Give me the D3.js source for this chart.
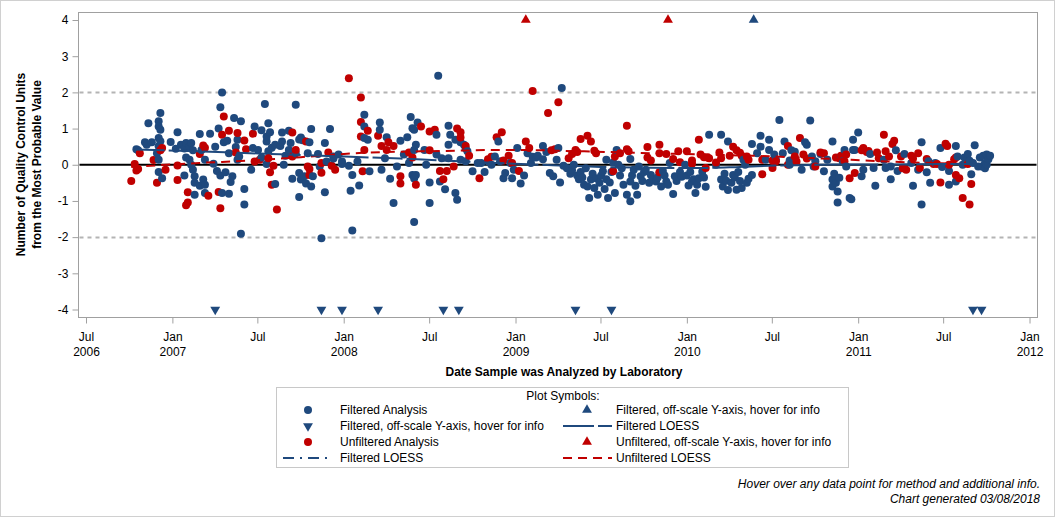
<!DOCTYPE html>
<html><head><meta charset="utf-8">
<script src="https://cdn.jsdelivr.net/npm/d3@7"></script>
<style>
html,body{margin:0;padding:0;background:#fff;}
text{font-family:"Liberation Sans",Arial,sans-serif;}
</style></head>
<body><svg id="chart" width="1056" height="518"></svg>
<script>
// ---- DATA (dates as decimal years, values in QC units) ----
const filteredAnalysis = [
[2006.79,0.43],[2006.80,0.40],[2006.84,0.62],[2006.86,1.15],[2006.85,0.55],[2006.88,0.62],[2006.92,1.20],[2006.93,1.43],[2006.92,1.06],[2006.93,0.97],
[2006.92,0.74],[2006.92,0.51],[2006.91,0.32],[2006.92,0.14],[2006.92,-0.20],[2006.94,-0.37],[2006.93,0.65],[2006.99,0.63],[2007.03,0.90],[2007.02,0.44],
[2007.05,0.55],[2007.07,0.45],[2007.08,0.60],[2007.10,0.50],[2007.11,0.60],[2007.12,0.40],[2007.08,0.20],[2007.10,0.14],[2007.11,0.00],[2007.12,-0.14],
[2007.07,-0.30],[2007.13,-0.32],[2007.13,-0.50],[2007.16,-0.58],[2007.18,-0.41],[2007.19,-0.55],[2007.13,-0.83],[2007.19,-0.78],[2007.16,0.85],[2007.17,0.41],
[2007.19,0.14],[2007.22,0.86],[2007.27,1.00],[2007.28,1.59],[2007.29,2.00],[2007.25,0.50],[2007.24,0.03],[2007.26,-0.17],[2007.28,-0.30],[2007.31,-0.21],
[2007.29,-0.78],[2007.33,-0.80],[2007.34,-0.48],[2007.35,-0.32],[2007.30,0.62],[2007.33,0.32],[2007.32,0.66],[2007.36,1.29],[2007.40,1.20],[2007.38,0.69],
[2007.37,0.49],[2007.39,0.23],[2007.38,0.14],[2007.42,-0.67],[2007.42,-1.10],[2007.40,-1.91],[2007.46,-0.14],[2007.48,1.06],[2007.47,0.46],[2007.50,0.41],
[2007.52,0.95],[2007.54,1.68],[2007.56,1.15],[2007.55,0.64],[2007.55,0.78],[2007.56,0.37],[2007.55,0.02],[2007.52,0.20],
[2007.57,0.90],[2007.58,0.47],[2007.60,0.55],[2007.60,-0.53],[2007.64,0.89],[2007.64,0.64],[2007.63,0.52],[2007.65,0.00],[2007.68,0.94],[2007.68,0.41],
[2007.70,-0.39],[2007.72,1.66],[2007.72,0.32],[2007.74,0.70],[2007.75,0.75],[2007.76,0.68],[2007.74,-0.23],[2007.75,-0.41],[2007.74,-0.89],[2007.77,-0.32],
[2007.78,-0.52],[2007.79,0.32],[2007.80,0.62],[2007.81,0.99],[2007.81,-0.60],[2007.82,-0.32],[2007.86,-0.05],[2007.89,0.60],[2007.89,-0.76],[2007.87,-2.03],
[2007.90,0.09],[2007.92,0.99],[2007.94,0.17],[2007.97,0.28],[2007.99,0.09],[2008.03,-0.03],[2008.04,-0.72],[2008.05,-0.28],[2008.05,-1.82],[2008.08,0.09],
[2008.09,-0.57],[2008.12,1.38],[2008.12,1.06],[2008.12,0.74],[2008.14,0.69],[2008.15,-0.18],[2008.21,1.17],[2008.21,0.97],[2008.22,-0.14],[2008.25,0.76],
[2008.24,0.18],[2008.27,-0.39],[2008.29,-1.06],[2008.31,-0.05],[2008.33,0.66],[2008.35,0.28],[2008.37,0.76],[2008.38,0.05],[2008.39,1.32],[2008.40,1.01],
[2008.41,0.97],[2008.40,-0.28],[2008.41,-1.58],[2008.41,0.41],[2008.41,-0.38],[2007.94,0.23],[2007.99,0.02],[2007.85,0.30],[2007.69,0.60],[2007.66,0.25],
[2008.43,1.17],[2008.42,0.55],[2008.47,0.41],[2008.48,0.00],[2008.50,-0.49],[2008.50,-1.06],[2008.42,-0.28],[2008.54,0.83],[2008.54,0.28],[2008.56,-0.46],
[2008.59,-0.68],[2008.57,0.18],[2008.61,1.08],[2008.62,0.83],[2008.61,0.55],[2008.61,0.18],[2008.65,-0.78],[2008.66,-0.97],[2008.65,0.69],[2008.68,0.62],
[2008.70,0.55],[2008.71,0.45],[2008.72,0.37],[2008.68,0.14],[2008.71,0.10],[2008.75,-0.18],[2008.80,0.05],[2008.82,-0.20],[2008.84,0.10],[2008.88,0.23],
[2008.90,0.64],[2008.93,-0.37],[2008.94,-0.23],[2008.98,-0.37],[2008.99,-0.14],[2009.03,-0.52],[2009.05,-0.30],[2009.01,0.46],[2009.07,0.32],[2009.10,0.22],
[2009.13,0.25],[2009.16,0.52],[2009.16,0.15],[2009.20,-0.23],[2009.22,-0.32],[2009.24,0.14],[2009.25,0.46],[2009.26,-0.49],[2008.55,2.46],[2009.27,2.12],
[2008.91,0.10],[2008.97,0.05],[2009.09,0.05],[2008.78,0.05],[2008.86,0.00],[2009.12,0.20],[2009.18,0.35],
[2009.28,-0.03],[2009.32,-0.25],[2009.34,0.00],[2009.36,-0.30],[2009.37,-0.40],[2009.38,-0.20],[2009.40,-0.55],[2009.43,-0.92],[2009.44,-0.41],[2009.46,-0.64],
[2009.47,-0.37],[2009.48,-0.83],[2009.51,-0.18],[2009.52,-0.67],[2009.53,0.14],[2009.54,-0.92],[2009.55,-0.49],[2009.57,0.06],[2009.58,-0.78],[2009.59,0.41],
[2009.60,0.00],[2009.65,-0.83],[2009.67,0.16],[2009.67,-0.46],[2009.67,-1.01],[2009.69,-0.14],[2009.70,-0.58],[2009.71,-0.83],[2009.72,-0.05],[2009.73,-0.32],
[2009.76,-0.14],[2009.78,-0.50],[2009.79,-0.28],[2009.82,-0.46],[2009.84,-0.23],[2009.86,-0.17],[2009.88,-0.46],[2009.92,-0.81],[2009.93,-0.32],[2009.97,-0.33],
[2010.01,-0.57],[2010.03,-0.46],[2010.05,-0.78],[2010.07,-0.37],[2010.09,-0.19],[2010.11,-0.61],[2010.13,0.83],[2009.90,0.05],[2009.99,0.00],[2009.61,-0.30],
[2009.41,-0.10],[2009.85,-0.60],
[2009.30,-0.10],[2009.33,-0.15],[2009.39,-0.35],[2009.42,-0.60],[2009.45,-0.25],[2009.49,-0.50],[2009.50,-0.30],[2009.53,-0.40],[2009.56,-0.20],[2009.62,-0.10],
[2009.63,-0.55],[2009.68,-0.30],[2009.74,-0.45],[2009.75,-0.20],[2009.80,-0.40],[2009.83,-0.35],[2009.87,-0.30],[2009.89,-0.55],[2009.94,-0.45],[2009.96,-0.20],
[2010.00,-0.30],[2010.02,-0.20],[2010.04,-0.40],[2010.06,-0.55],[2010.10,-0.35],
[2010.20,0.83],[2010.20,-0.41],[2010.21,-0.60],[2010.23,-0.44],[2010.24,-0.70],[2010.24,0.64],[2010.27,-0.28],[2010.29,-0.69],[2010.30,-0.20],[2010.32,-0.64],
[2010.33,0.14],[2010.36,-0.39],[2010.38,-0.28],[2010.38,0.57],[2010.41,0.32],[2010.43,0.80],[2010.43,0.50],[2010.46,0.14],[2010.48,0.69],[2010.48,0.41],
[2010.51,0.28],[2010.52,0.14],[2010.54,1.24],[2010.56,0.32],[2010.57,0.64],[2010.60,0.12],[2010.61,0.40],[2010.63,0.36],[2010.67,-0.14],[2010.69,0.62],
[2010.70,0.55],[2010.72,1.22],[2010.73,0.23],[2010.74,-0.05],[2010.80,-0.18],[2010.82,0.14],[2010.85,0.64],[2010.85,-0.41],[2010.85,-0.60],[2010.88,-0.74],
[2010.88,-1.04],[2010.89,-0.36],[2010.92,0.41],[2010.90,0.23],[2010.95,-0.92],[2010.97,0.69],[2010.97,0.41],[2010.17,0.00],[2010.34,0.00],[2010.60,0.00],
[2010.75,0.10],[2010.78,0.30],[2010.22,-0.25],[2010.26,-0.50],[2010.28,-0.35],[2010.31,-0.45],[2010.35,-0.50],
[2010.86,-0.25],[2010.87,-0.50],[2010.91,0.10],[2010.93,-0.05],
[2011.00,0.89],[2010.98,0.41],[2010.96,-0.95],[2011.03,-0.14],[2011.02,-0.32],[2011.07,0.30],[2011.09,-0.09],[2011.10,-0.58],[2011.15,0.14],[2011.16,-0.09],
[2011.19,-0.40],[2011.19,-0.05],[2011.22,0.40],[2011.23,-0.17],[2011.31,0.05],[2011.32,-0.58],[2011.35,-0.14],[2011.37,0.62],[2011.37,-1.10],[2011.40,-0.21],
[2011.42,-0.50],[2011.45,0.05],[2011.48,0.46],[2011.49,-0.06],[2011.53,-0.17],[2011.53,-0.55],[2011.57,0.52],[2011.58,0.23],[2011.57,-0.46],[2011.65,0.11],
[2011.66,-0.26],[2011.68,0.54],[2011.70,-0.05],[2011.73,0.25],[2011.74,0.05],[2011.74,-0.10],[2011.76,0.15],[2011.75,0.28],[2011.27,0.30],[2011.41,0.10],
[2011.61,0.00],[2011.64,0.30],[2011.62,0.20],[2011.67,0.05],[2011.71,0.20],[2011.72,-0.05],[2011.75,0.00],[2011.77,0.25]
];
const unfilteredAnalysis = [
[2006.76,-0.45],[2006.78,0.02],[2006.79,-0.16],[2006.80,-0.12],[2006.81,0.32],[2006.89,0.13],[2006.91,-0.50],[2006.94,0.46],[2006.93,0.40],[2006.96,-0.14],
[2007.03,-0.02],[2007.03,-0.42],[2007.09,-0.76],[2007.09,-1.04],[2007.08,-1.12],[2007.16,0.30],[2007.18,0.53],[2007.19,0.47],[2007.21,-0.86],[2007.27,-0.75],
[2007.28,-1.20],[2007.30,1.33],[2007.29,0.83],[2007.33,0.94],[2007.38,0.88],[2007.42,0.67],[2007.43,0.43],[2007.37,0.34],[2007.47,0.86],[2007.48,0.09],
[2007.51,0.14],[2007.56,0.18],[2007.57,-0.21],[2007.58,-0.55],[2007.61,-1.24],[2007.59,-0.03],[2007.70,0.89],[2007.72,0.41],[2007.70,0.23],[2007.78,0.64],
[2007.79,-0.05],[2007.80,-0.12],[2007.80,-0.28],[2007.87,0.05],[2007.87,-0.22],[2007.91,0.34],[2007.93,-0.03],[2007.95,-0.14],[2008.03,2.39],[2008.10,1.86],
[2008.10,1.18],[2008.14,0.94],[2008.12,0.41],[2008.11,-0.18],[2008.10,0.78],[2008.20,0.80],[2008.22,0.52],[2008.25,0.41],[2008.26,0.62],[2008.29,0.52],
[2008.33,-0.32],[2008.33,-0.52],[2008.38,0.34],[2008.42,-0.55],[2008.40,0.20],[2008.45,1.06],[2008.50,0.92],[2008.50,0.40],[2008.53,0.97],[2008.56,-0.17],
[2008.58,-0.40],[2008.60,-0.17],[2008.64,-0.05],[2008.66,1.00],[2008.68,0.90],[2008.68,0.75],[2008.71,0.52],[2008.73,0.25],[2008.79,-0.37],[2008.84,0.15],
[2008.86,0.22],[2008.89,0.76],[2008.92,0.90],[2008.93,0.12],[2008.96,0.25],[2008.98,0.05],[2009.02,-0.17],[2009.06,0.64],[2009.08,0.46],[2009.10,2.04],
[2009.19,1.43],[2009.21,0.40],[2009.23,0.43],[2009.25,1.73],[2009.31,0.18],[2009.33,0.30],[2009.35,0.41],[2009.36,0.35],[2009.38,0.71],[2009.42,0.80],
[2009.44,0.64],[2009.46,0.39],[2009.47,0.32],[2009.57,-0.18],[2009.58,0.23],[2009.61,0.32],[2009.65,1.08],[2009.65,0.43],[2009.66,0.37],[2009.77,0.49],
[2009.77,0.20],[2009.79,0.12],[2009.84,-0.21],[2009.84,0.55],[2009.84,0.32],[2009.88,0.30],[2009.92,0.16],[2009.95,0.37],[2009.96,0.07],[2010.00,0.37],
[2010.03,0.12],[2010.03,0.03],[2010.07,0.69],[2010.08,0.28],[2010.10,0.21],[2010.12,0.20],[2010.11,-0.09],[2010.13,0.18],[2010.17,0.06],[2010.19,0.34],
[2010.20,0.18],[2010.25,0.25],[2010.27,0.50],[2010.29,0.40],[2010.31,0.33],[2010.32,0.25],[2010.35,0.23],[2010.36,0.14],[2010.44,-0.26],[2010.44,0.14],
[2010.50,-0.09],[2010.50,0.12],[2010.52,0.10],[2010.59,0.52],[2010.59,0.00],[2010.63,0.23],[2010.64,0.09],[2010.66,0.74],[2010.68,0.28],[2010.70,0.17],
[2010.75,-0.05],[2010.78,0.34],[2010.80,0.32],[2010.87,0.20],[2010.89,0.18],[2010.90,0.25],[2010.92,0.10],[2010.93,0.28],[2010.95,-0.37],[2010.98,-0.23],
[2011.02,0.40],[2011.03,0.46],[2011.05,0.35],[2011.06,0.38],[2011.11,0.34],[2011.12,0.18],[2011.15,0.83],[2011.16,0.37],[2011.18,0.23],[2011.20,0.57],
[2011.21,0.66],[2011.25,0.23],[2011.26,-0.10],[2011.28,-0.14],[2011.31,0.25],[2011.32,0.17],[2011.35,0.32],[2011.36,-0.09],[2011.40,0.16],[2011.44,0.02],
[2011.46,0.02],[2011.48,-0.49],[2011.51,0.58],[2011.52,0.52],[2011.53,0.00],[2011.56,0.15],[2011.57,0.20],[2011.57,-0.28],[2011.59,-0.37],[2011.61,-0.92],
[2011.64,0.02],[2011.65,-1.10],[2011.66,-0.53]
];
const filteredOffHigh = [2010.39];
const filteredOffLow = [2007.25,2007.87,2007.99,2008.20,2008.58,2008.67,2009.35,2009.56,2011.67,2011.72];
const unfilteredOffHigh = [2009.06,2009.89];
const filteredLoess = [
[2006.78,0.42],[2007.16,0.37],[2007.51,0.31],[2007.75,0.27],[2008.04,0.22],[2008.33,0.17],[2008.56,0.12],[2008.80,0.07],[2009.03,0.02],
[2009.26,-0.02],[2009.50,-0.06],[2009.79,-0.08],[2010.08,-0.09],[2010.31,-0.06],[2010.54,-0.02],[2010.78,0.00],[2011.01,0.01],[2011.24,0.01],[2011.48,0.02],[2011.76,0.02]
];
const unfilteredLoess = [
[2006.76,-0.06],[2007.16,0.05],[2007.47,0.12],[2007.75,0.21],[2008.11,0.33],[2008.56,0.38],[2008.97,0.41],[2009.40,0.37],
[2009.79,0.32],[2010.14,0.28],[2010.37,0.25],[2010.85,0.16],[2011.17,0.09],[2011.64,0.02]
];
const yTicks = [-4,-3,-2,-1,0,1,2,3,4];
const xTickDates = ["2006-07-01","2007-01-01","2007-07-01","2008-01-01","2008-07-01","2009-01-01","2009-07-01","2010-01-01","2010-07-01","2011-01-01","2011-07-01","2012-01-01"];
const limitLines = [-2,2];
const legendItems = [
 {label:"Filtered Analysis", kind:"circle", color:"blue"},
 {label:"Filtered, off-scale Y-axis, hover for info", kind:"up", color:"blue"},
 {label:"Filtered, off-scale Y-axis, hover for info", kind:"down", color:"blue"},
 {label:"Filtered LOESS", kind:"longdash", color:"blue"},
 {label:"Unfiltered Analysis", kind:"circle", color:"red"},
 {label:"Unfiltered, off-scale Y-axis, hover for info", kind:"up", color:"red"},
 {label:"Filtered LOESS", kind:"dashdot", color:"blue"},
 {label:"Unfiltered LOESS", kind:"dash", color:"red"}
];

// ---- helpers ----
const BLUE = "#1F497D", RED = "#C00000";
const colorOf = c => c === "blue" ? BLUE : RED;
function toDate(yr){
  const y = Math.floor(yr);
  const a = new Date(y,0,1).getTime(), b = new Date(y+1,0,1).getTime();
  return new Date(a + (yr - y)*(b - a));
}
const svg = d3.select("#chart");
const L = 78.5, R = 1037.5, T = 12.5, B = 317.5;

const x = d3.scaleTime().domain([new Date(2006,5,15), new Date(2012,0,18)]).range([L, R]);
const y = d3.scaleLinear().domain([-4,4]).range([309.5, 20]);

// outer border
svg.append("rect").attr("x",0.5).attr("y",0.5).attr("width",1054).attr("height",516)
  .attr("fill","none").attr("stroke","#d0d0d0");

// plot frame
svg.append("rect").attr("x",L).attr("y",T).attr("width",R-L).attr("height",B-T)
  .attr("fill","#fff").attr("stroke","#a0a0a0");

// limit lines
svg.selectAll(".lim").data(limitLines).join("line")
  .attr("x1",L+1).attr("x2",R-1).attr("y1",d=>Math.round(y(d))+0.5).attr("y2",d=>Math.round(y(d))+0.5)
  .attr("stroke","#b4b4b4").attr("stroke-width",2).attr("stroke-dasharray","4,4");

// zero line
svg.append("line").attr("x1",L+1).attr("x2",R-1).attr("y1",y(0)).attr("y2",y(0))
  .attr("stroke","#000").attr("stroke-width",2);

// y axis
const yAxis = d3.axisLeft(y).tickValues(yTicks).tickSize(6).tickPadding(4).tickFormat(d3.format("d"));
const gy = svg.append("g").attr("transform",`translate(${L},0)`).call(yAxis);
gy.select(".domain").remove();
gy.selectAll(".tick line").attr("stroke","#a0a0a0");
gy.selectAll(".tick text").attr("font-size",12).attr("fill","#000")
  .style("font-family","'Liberation Sans',Arial,sans-serif").text(d=>d<0?"-"+Math.abs(d):d);

// x axis
const xt = xTickDates.map(s=>{const p=s.split("-");return new Date(+p[0],+p[1]-1,+p[2]);});
const xAxis = d3.axisBottom(x).tickValues(xt).tickSize(6).tickFormat("");
const gx = svg.append("g").attr("transform",`translate(0,${B})`).call(xAxis);
gx.select(".domain").remove();
gx.selectAll(".tick line").attr("stroke","#a0a0a0");
gx.selectAll(".tick").each(function(d,i){
  const g = d3.select(this);
  const mon = d.getMonth()===0 ? "Jan" : "Jul";
  const t = g.append("text").attr("text-anchor","middle").attr("font-size",12).attr("fill","#000");
  t.append("tspan").attr("x",0).attr("y",23).text(mon);
  if (d.getMonth()===0 || i===0) t.append("tspan").attr("x",0).attr("y",38).text(d.getFullYear());
});

// axis labels
svg.append("text").attr("x",564).attr("y",376).attr("text-anchor","middle")
  .attr("font-size",12).attr("font-weight","bold").text("Date Sample was Analyzed by Laboratory");
svg.append("text").attr("transform","translate(25,164.5) rotate(-90)").attr("text-anchor","middle")
  .attr("font-size",12).attr("font-weight","bold").text("Number of Quality Control Units");
svg.append("text").attr("transform","translate(41,164.5) rotate(-90)").attr("text-anchor","middle")
  .attr("font-size",12).attr("font-weight","bold").text("from the Most Probable Value");

// points (merged, drawn in date order)
const pts = filteredAnalysis.map(d=>({yr:d[0],v:d[1],c:BLUE}))
  .concat(unfilteredAnalysis.map(d=>({yr:d[0],v:d[1],c:RED})))
  .sort((a,b)=>a.yr-b.yr);
const gp = svg.append("g");
gp.selectAll("circle").data(pts).join("circle")
  .attr("cx",d=>x(toDate(d.yr))).attr("cy",d=>y(d.v)).attr("r",4).attr("fill",d=>d.c);

// off-scale markers
const tri = d3.symbol().type(d3.symbolTriangle).size(42);
const offs = filteredOffHigh.map(d=>({yr:d,v:4,c:BLUE,up:true}))
  .concat(unfilteredOffHigh.map(d=>({yr:d,v:4,c:RED,up:true})))
  .concat(filteredOffLow.map(d=>({yr:d,v:-4,c:BLUE,up:false})));
svg.append("g").selectAll("path").data(offs).join("path")
  .attr("d",tri)
  .attr("transform",d=>`translate(${x(toDate(d.yr))},${y(d.v)}) rotate(${d.up?0:180})`)
  .attr("fill",d=>d.c);

// LOESS lines
const line = d3.line().x(d=>x(toDate(d[0]))).y(d=>y(d[1])).curve(d3.curveMonotoneX);
svg.append("path").datum(unfilteredLoess).attr("d",line).attr("fill","none")
  .attr("stroke",RED).attr("stroke-width",2).attr("stroke-dasharray","9,6");
svg.append("path").datum(filteredLoess).attr("d",line).attr("fill","none")
  .attr("stroke",BLUE).attr("stroke-width",2).attr("stroke-dasharray","30,4");

// legend
const lg = svg.append("g");
lg.append("rect").attr("x",276.5).attr("y",387.5).attr("width",572).attr("height",80)
  .attr("fill","#fff").attr("stroke","#c8c8c8");
lg.append("text").attr("x",563).attr("y",399.5).attr("text-anchor","middle").attr("font-size",12)
  .text("Plot Symbols:");
const rowY = [410,426,442,458];
const colSym = [308,587], colTxt = [340,616];
legendItems.forEach((it,i)=>{
  const r = Math.floor(i/2), c = i%2;
  const cy = rowY[r], cx = colSym[c];
  const col = colorOf(it.color);
  if (it.kind==="circle") lg.append("circle").attr("cx",cx).attr("cy",cy).attr("r",4).attr("fill",col);
  else if (it.kind==="up"||it.kind==="down")
    lg.append("path").attr("d",tri).attr("transform",`translate(${cx},${cy}) rotate(${it.kind==="up"?0:180})`).attr("fill",col);
  else {
    const x1 = c===0 ? 283 : 563, x2 = c===0 ? 328 : 612;
    const da = it.kind==="longdash" ? "31,4" : it.kind==="dash" ? "9,6" : "11,6,2,6";
    lg.append("line").attr("x1",x1).attr("x2",x2).attr("y1",cy).attr("y2",cy)
      .attr("stroke",col).attr("stroke-width",2).attr("stroke-dasharray",da);
  }
  lg.append("text").attr("x",colTxt[c]).attr("y",cy+4).attr("font-size",12).text(it.label);
});

// footer
svg.append("text").attr("x",1040).attr("y",488).attr("text-anchor","end").attr("font-size",12)
  .attr("font-style","italic").text("Hover over any data point for method and additional info.");
svg.append("text").attr("x",1040).attr("y",503).attr("text-anchor","end").attr("font-size",12)
  .attr("font-style","italic").text("Chart generated 03/08/2018");
</script></body></html>
